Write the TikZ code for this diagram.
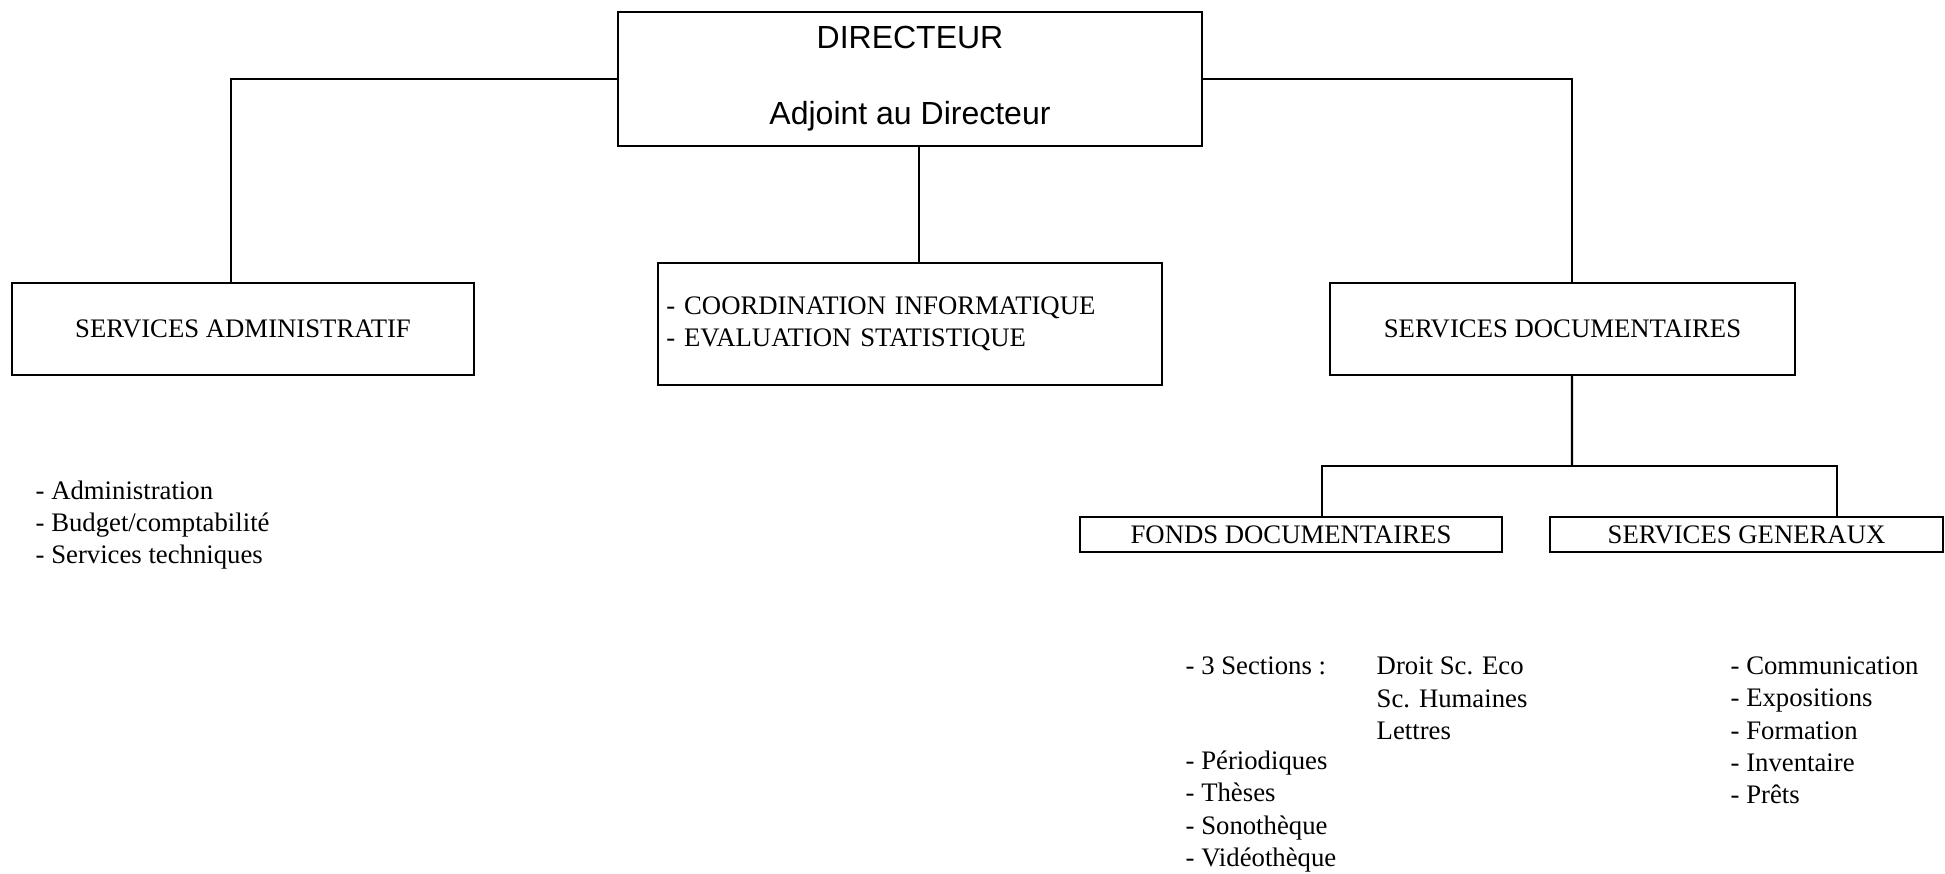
\documentclass[tikz,border=0pt]{standalone}
\usepackage{fontspec}
\setmainfont{Liberation Serif}
\newfontfamily\helvfont{Liberation Sans}
\tikzset{
  unitbox/.style={
    rectangle, draw=black, line width=0.6pt, inner sep=0pt,
    font=\fontsize{7.6}{9.2}\selectfont, align=center
  },
  itemlist/.style={anchor=west, align=left, inner sep=0pt, font=\fontsize{7.6}{9.2}\selectfont},
  link/.style={line width=0.6pt},
}
\begin{document}
\begin{tikzpicture}[x=0.01cm, y=-0.01cm]
\useasboundingbox (0,0) rectangle (1945,874);

\node[unitbox, minimum width=5.83cm, minimum height=1.34cm, font=\helvfont\fontsize{9.1}{21.6}\selectfont] (dir) at (910,79) {DIRECTEUR\\Adjoint au Directeur};
\node[unitbox, minimum width=4.62cm, minimum height=0.92cm] (admin) at (243,329) {SERVICES ADMINISTRATIF};
\node[unitbox, minimum height=1.22cm, text width=4.87cm, inner xsep=0.08cm, align=left] (coord) at (910,324) {- COORDINATION INFORMATIQUE\\- EVALUATION STATISTIQUE};
\node[unitbox, minimum width=4.65cm, minimum height=0.92cm] (docs) at (1562.5,329) {SERVICES DOCUMENTAIRES};
\node[unitbox, minimum width=4.22cm, minimum height=0.35cm] (fonds) at (1291,534.5) {FONDS DOCUMENTAIRES};
\node[unitbox, minimum width=3.93cm, minimum height=0.35cm] (gen) at (1746.5,534.5) {SERVICES GENERAUX};

% rattachements
\draw[link] (dir.west) -| ([xshift=-0.12cm]admin.north);
\draw[link] (dir.east) -| ([xshift=0.095cm]docs.north);
\draw[link] ([xshift=0.09cm]dir.south) -- ([xshift=0.09cm]coord.north);
\coordinate (split) at (1572,466);
\draw[link] ([xshift=0.095cm]docs.south) -- (split);
\draw[link] ([xshift=0.31cm]fonds.north) |- (split) -| ([xshift=0.9cm]gen.north);

% contenus
\node[itemlist] (adminlist) at (35,525) {- Administration\\- Budget/comptabilité\\- Services techniques};
\node[itemlist] (sections) at (1185,666) {- 3 Sections :};
\node[itemlist] (secnames) at (1376,698.5) {Droit Sc. Eco\\Sc. Humaines\\Lettres};
\node[itemlist] (fondslist) at (1185,811.5) {- Périodiques\\- Thèses\\- Sonothèque\\- Vidéothèque};
\node[itemlist] (genlist) at (1730,730.5) {- Communication\\- Expositions\\- Formation\\- Inventaire\\- Prêts};

\end{tikzpicture}
\end{document}
